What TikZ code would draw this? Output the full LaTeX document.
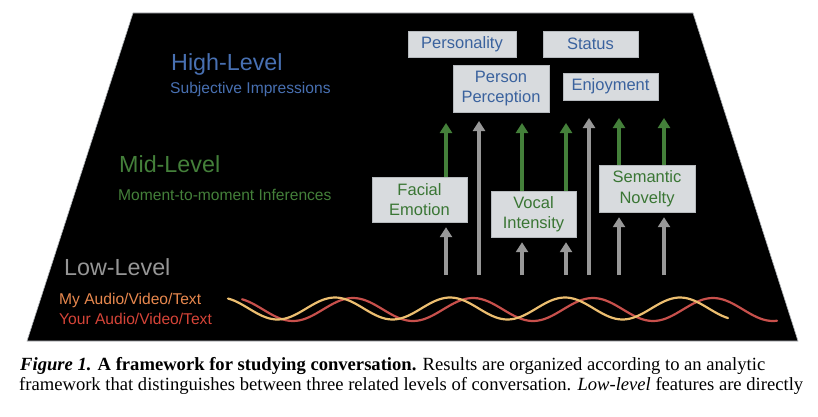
\documentclass[tikz,border=0pt]{standalone}
\usepackage{fontspec}
\setmainfont{Liberation Serif}
\setsansfont{Liberation Sans}
\usetikzlibrary{arrows.meta,positioning,calc}
\definecolor{convblue}{RGB}{72,112,178}
\definecolor{convboxblue}{RGB}{58,98,158}
\definecolor{convgreen}{RGB}{68,128,58}
\definecolor{convboxgreen}{RGB}{58,118,52}
\definecolor{convgray}{RGB}{150,150,150}
\definecolor{convarrow}{RGB}{152,152,152}
\definecolor{convorange}{RGB}{232,136,78}
\definecolor{convred}{RGB}{214,68,56}
\definecolor{convfill}{RGB}{216,219,222}
\definecolor{convedge}{RGB}{182,186,190}
\definecolor{wavemine}{RGB}{236,190,112}
\definecolor{waveyours}{RGB}{200,80,76}
\tikzset{
  heading/.style={anchor=base west, inner sep=0pt, font=\sffamily\fontsize{23.3}{26}\selectfont},
  subheading/.style={anchor=base west, inner sep=0pt, font=\sffamily\fontsize{15.6}{18}\selectfont},
  highbox/.style={draw=convedge, fill=convfill, text=convboxblue, align=center, inner sep=0pt,
    font=\sffamily\fontsize{16.5}{20.5}\selectfont},
  midbox/.style={draw=convedge, fill=convfill, text=convboxgreen, align=center, inner sep=0pt,
    font=\sffamily\fontsize{16.5}{20.5}\selectfont},
  midflow/.style={-{Triangle[width=12pt,length=10pt]}, line width=3.5pt, draw=convgreen},
  lowflow/.style={-{Triangle[width=12pt,length=10pt]}, line width=3.5pt, draw=convarrow},
  wave/.style={line width=2.2pt, line cap=round},
  caption/.style={anchor=base west, inner sep=0pt, text=black, font=\rmfamily\fontsize{18.6}{21}\selectfont}
}

\begin{document}
\begin{tikzpicture}[x=1pt, y=-1pt]
  \useasboundingbox[fill=white] (0,0) rectangle (818,417);
  \fill[black, draw=convedge, line width=0.6pt] (133,13) -- (693,13) -- (798,341) -- (27,341) -- cycle;

  % level labels
  \node[heading, text=convblue] (high) at (171,71) {High-Level};
  \node[subheading, text=convblue] (highsub) at (170,94) {Subjective Impressions};
  \node[heading, text=convgreen] (mid) at (119,172) {Mid-Level};
  \node[subheading, text=convgreen] (midsub) at (118,200) {Moment-to-moment Inferences};
  \node[heading, text=convgray] (low) at (64,275) {Low-Level};
  \node[subheading, text=convorange] (mine) at (59,304) {My Audio/Video/Text};
  \node[subheading, text=convred] (yours) at (59,324) {Your Audio/Video/Text};

  % high-level boxes
  \node[highbox, minimum width=108pt, minimum height=26pt] (personality) at (462,44) {Personality};
  \node[highbox, minimum width=95pt, minimum height=26pt] (status) at (590.5,44) {Status};
  \node[highbox, minimum width=96pt, minimum height=47pt] (perception) at (501,88.5) {Person\\Perception};
  \node[highbox, minimum width=95pt, minimum height=27pt] (enjoyment) at (610.5,86.5) {Enjoyment};

  % mid-level boxes
  \node[midbox, minimum width=95pt, minimum height=45pt] (facial) at (419.5,199.5) {Facial\\Emotion};
  \node[midbox, minimum width=85pt, minimum height=46pt] (vocal) at (533.5,214) {Vocal\\Intensity};
  \node[midbox, minimum width=96pt, minimum height=47pt] (semantic) at (647,188.5) {Semantic\\Novelty};

  % arrows low -> mid -> high
  \foreach \x/\feature/\tip in {446/facial/123, 522/vocal/123, 566/vocal/123, 619/semantic/118, 664/semantic/118} {
    \coordinate (lo\x) at (\x,275);
    \coordinate (hi\x) at (\x,\tip);
    \draw[lowflow, shorten >=5pt] (lo\x) -- (lo\x |- \feature.south);
    \draw[midflow] (hi\x |- \feature.north) -- (hi\x);
  }
  \foreach \x/\tip in {479/121, 589/118} {
    \coordinate (lo\x) at (\x,275);
    \coordinate (hi\x) at (\x,\tip);
    \draw[lowflow] (lo\x) -- (hi\x);
  }

  % signals
  \draw[wave, draw=waveyours] plot[domain=242:777, samples=160] (\x, {309.5 - 11.5*cos(3*(\x-233))});
  \draw[wave, draw=wavemine] plot[domain=228:728, samples=160] (\x, {308.5 - 11*cos(3.1304*(\x-220))});

  % caption
  \node[caption] (cap1) at (20,370) {\textbf{\textit{Figure 1.} A framework for studying conversation.} Results are organized according to an analytic};
  \node[caption] (cap2) at (19,390) {framework that distinguishes between three related levels of conversation. \textit{Low-level} features are directly};
\end{tikzpicture}
\end{document}
